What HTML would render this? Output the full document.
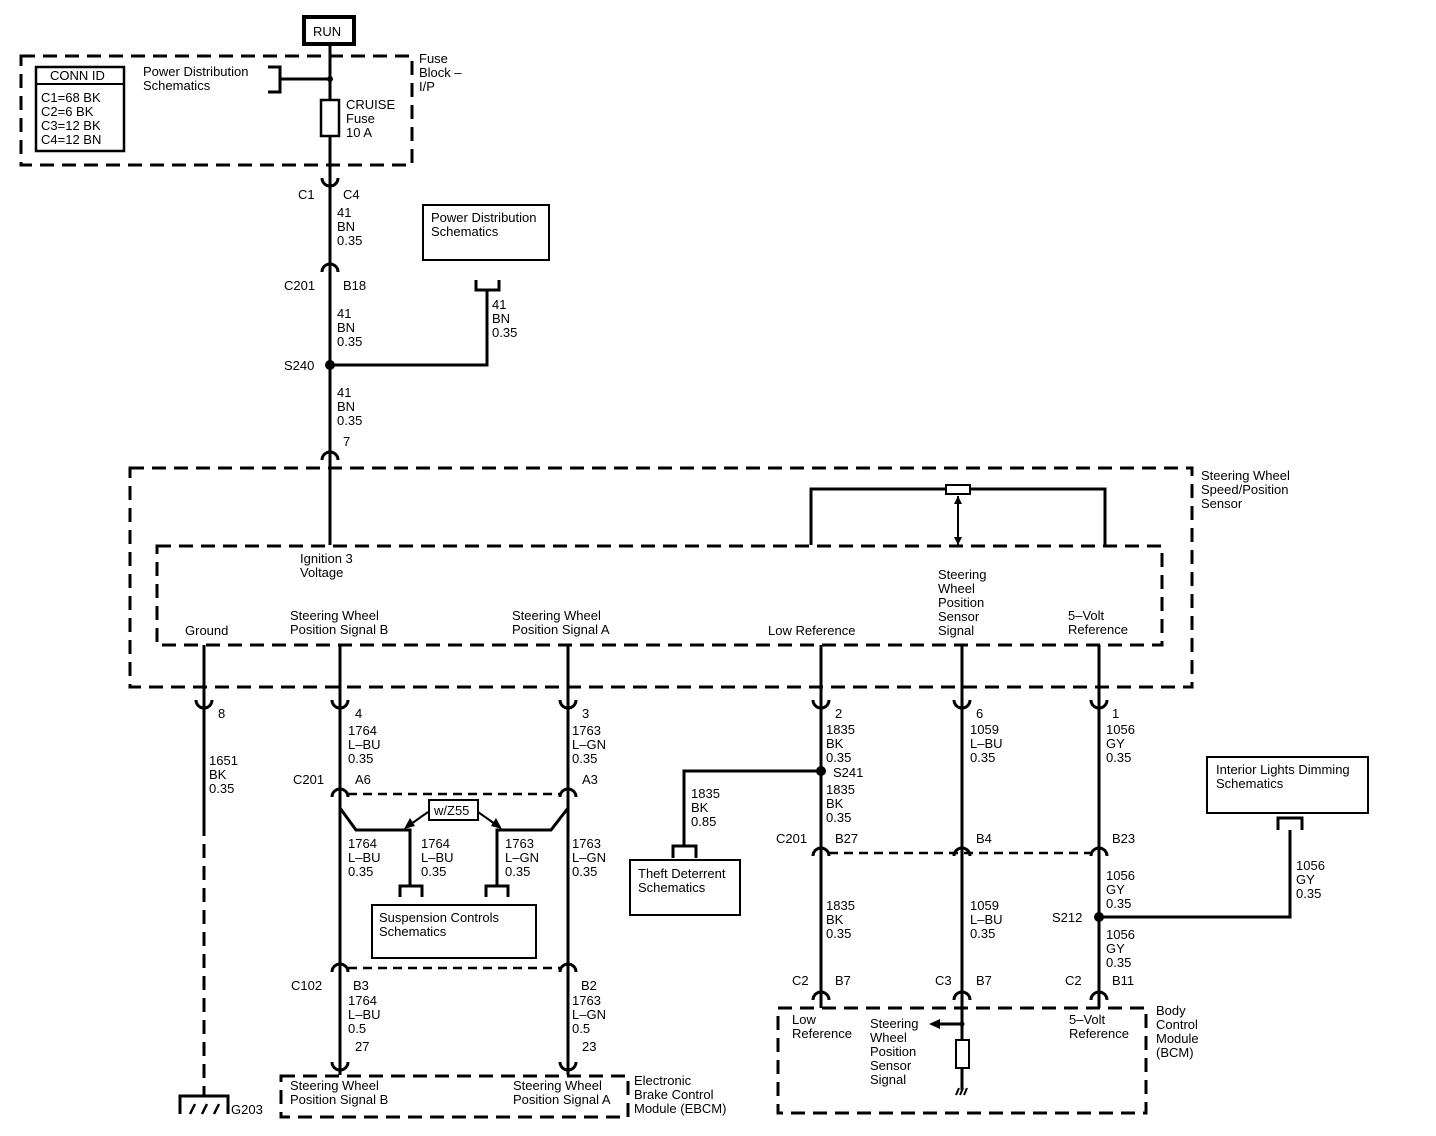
<!DOCTYPE html>
<html><head><meta charset="utf-8"><style>
html,body{margin:0;padding:0;background:#fff}
svg{display:block}
text{font-family:"Liberation Sans",Arial,sans-serif;font-size:13px;fill:#000}
.w{stroke:#000;stroke-width:3;fill:none}
.d{stroke:#000;stroke-width:3;fill:none;stroke-dasharray:14 8}
.dd{stroke:#000;stroke-width:2.5;fill:none;stroke-dasharray:9 6}
.b{stroke:#000;stroke-width:2;fill:#fff}
.c{stroke:#000;stroke-width:3;fill:none}
</style></head><body>
<svg width="1436" height="1136" viewBox="0 0 1436 1136" xmlns="http://www.w3.org/2000/svg">
<!-- RUN -->
<rect x="304" y="17" width="50" height="27" fill="#fff" stroke="#000" stroke-width="4"/>
<text x="313" y="36">RUN</text>
<!-- fuse block box -->
<rect x="21" y="56" width="391" height="109" class="d"/>
<text x="419" y="63">Fuse</text><text x="419" y="77">Block –</text><text x="419" y="91">I/P</text>
<rect x="36" y="67" width="88" height="84" fill="none" stroke="#000" stroke-width="2.5"/>
<line x1="36" y1="84" x2="124" y2="84" stroke="#000" stroke-width="2"/>
<text x="50" y="80">CONN ID</text>
<text x="41" y="102">C1=68 BK</text><text x="41" y="116">C2=6 BK</text><text x="41" y="130">C3=12 BK</text><text x="41" y="144">C4=12 BN</text>
<text x="143" y="76">Power Distribution</text><text x="143" y="90">Schematics</text>
<path d="M268 67 H280 V92 H268" class="w"/>
<line x1="280" y1="79" x2="330" y2="79" class="w"/>
<circle cx="330" cy="79" r="3"/>
<!-- main wire -->
<line x1="330" y1="44" x2="330" y2="545" class="w"/>
<rect x="321" y="100" width="18" height="36" fill="#fff" stroke="#000" stroke-width="2.5"/>
<text x="346" y="109">CRUISE</text><text x="346" y="123">Fuse</text><text x="346" y="137">10 A</text>
<path d="M322 178 A8 8 0 0 0 338 178" class="c"/>
<text x="298" y="199">C1</text><text x="343" y="199">C4</text>
<text x="337" y="217">41</text><text x="337" y="231">BN</text><text x="337" y="245">0.35</text>
<path d="M322 272 A8 8 0 0 1 338 272" class="c"/>
<text x="284" y="290">C201</text><text x="343" y="290">B18</text>
<text x="337" y="318">41</text><text x="337" y="332">BN</text><text x="337" y="346">0.35</text>
<circle cx="330" cy="365" r="5"/>
<text x="284" y="370">S240</text>
<path d="M330 365 H487 V290" class="w"/>
<path d="M476 280 V290 H499 V280" class="w"/>
<rect x="423" y="205" width="126" height="55" class="b" stroke-width="2.5"/>
<text x="431" y="222">Power Distribution</text><text x="431" y="236">Schematics</text>
<text x="492" y="309">41</text><text x="492" y="323">BN</text><text x="492" y="337">0.35</text>
<text x="337" y="397">41</text><text x="337" y="411">BN</text><text x="337" y="425">0.35</text>
<path d="M322 460 A8 8 0 0 1 338 460" class="c"/>
<text x="343" y="446">7</text>
<!-- sensor boxes -->
<rect x="130" y="468" width="1062" height="219" class="d"/>
<rect x="157" y="546" width="1005" height="99" class="d"/>
<text x="1201" y="480">Steering Wheel</text><text x="1201" y="494">Speed/Position</text><text x="1201" y="508">Sensor</text>
<path d="M811 545 V489 H1105 V545" class="w"/>
<rect x="946" y="485" width="24" height="9" class="b" stroke-width="2.5"/>
<line x1="958" y1="496" x2="958" y2="545" stroke="#000" stroke-width="2"/>
<path d="M954 504 L958 496 L962 504 Z M954 537 L958 545 L962 537 Z"/>
<text x="300" y="563">Ignition 3</text><text x="300" y="577">Voltage</text>
<text x="185" y="635">Ground</text>
<text x="290" y="620">Steering Wheel</text><text x="290" y="634">Position Signal B</text>
<text x="512" y="620">Steering Wheel</text><text x="512" y="634">Position Signal A</text>
<text x="768" y="635">Low Reference</text>
<text x="938" y="579">Steering</text><text x="938" y="593">Wheel</text><text x="938" y="607">Position</text><text x="938" y="621">Sensor</text><text x="938" y="635">Signal</text>
<text x="1068" y="620">5–Volt</text><text x="1068" y="634">Reference</text>
<!-- vertical wires -->
<line x1="204" y1="645" x2="204" y2="822" class="w"/>
<line x1="204" y1="822" x2="204" y2="1095" class="d"/>
<line x1="340" y1="645" x2="340" y2="1075" class="w"/>
<line x1="568" y1="645" x2="568" y2="1075" class="w"/>
<line x1="821" y1="645" x2="821" y2="1008" class="w"/>
<line x1="962" y1="645" x2="962" y2="1090" class="w"/>
<line x1="1099" y1="645" x2="1099" y2="1008" class="w"/>
<!-- connectors row 700 -->
<g class="c">
<path d="M196 700 A8 8 0 0 0 212 700"/><path d="M332 700 A8 8 0 0 0 348 700"/><path d="M560 700 A8 8 0 0 0 576 700"/>
<path d="M813 700 A8 8 0 0 0 829 700"/><path d="M954 700 A8 8 0 0 0 970 700"/><path d="M1091 700 A8 8 0 0 0 1107 700"/>
</g>
<text x="218" y="718">8</text><text x="209" y="765">1651</text><text x="209" y="779">BK</text><text x="209" y="793">0.35</text>
<text x="355" y="718">4</text><text x="348" y="735">1764</text><text x="348" y="749">L–BU</text><text x="348" y="763">0.35</text>
<text x="582" y="718">3</text><text x="572" y="735">1763</text><text x="572" y="749">L–GN</text><text x="572" y="763">0.35</text>
<text x="835" y="718">2</text><text x="826" y="734">1835</text><text x="826" y="748">BK</text><text x="826" y="762">0.35</text>
<text x="976" y="718">6</text><text x="970" y="734">1059</text><text x="970" y="748">L–BU</text><text x="970" y="762">0.35</text>
<text x="1112" y="718">1</text><text x="1106" y="734">1056</text><text x="1106" y="748">GY</text><text x="1106" y="762">0.35</text>
<!-- C201 A6/A3 -->
<path d="M332 797 A8 8 0 0 1 348 797" class="c"/><path d="M560 797 A8 8 0 0 1 576 797" class="c"/>
<line x1="348" y1="794" x2="560" y2="794" class="dd"/>
<text x="293" y="784">C201</text><text x="355" y="784">A6</text><text x="582" y="784">A3</text>
<path d="M340 808 L356 830 H410 V885" class="w"/>
<path d="M568 808 L551 830 H497 V885" class="w"/>
<path d="M400 897 V886 H422 V897" class="w"/><path d="M486 897 V886 H508 V897" class="w"/>
<rect x="429" y="800" width="49" height="20" class="b" stroke-width="2.5"/><text x="434" y="815">w/Z55</text>
<path d="M428 812 L411 824" stroke="#000" stroke-width="2"/><path d="M404 829 L410 818 L415 826 Z"/>
<path d="M478 812 L495 824" stroke="#000" stroke-width="2"/><path d="M502 829 L491 826 L496 818 Z"/>
<text x="348" y="848">1764</text><text x="348" y="862">L–BU</text><text x="348" y="876">0.35</text>
<text x="421" y="848">1764</text><text x="421" y="862">L–BU</text><text x="421" y="876">0.35</text>
<text x="505" y="848">1763</text><text x="505" y="862">L–GN</text><text x="505" y="876">0.35</text>
<text x="572" y="848">1763</text><text x="572" y="862">L–GN</text><text x="572" y="876">0.35</text>
<rect x="372" y="905" width="164" height="53" class="b" stroke-width="2.5"/>
<text x="379" y="922">Suspension Controls</text><text x="379" y="936">Schematics</text>
<!-- C102 -->
<path d="M332 972 A8 8 0 0 1 348 972" class="c"/><path d="M560 972 A8 8 0 0 1 576 972" class="c"/>
<line x1="348" y1="968" x2="560" y2="968" class="dd"/>
<text x="291" y="990">C102</text><text x="353" y="990">B3</text><text x="581" y="990">B2</text>
<text x="348" y="1005">1764</text><text x="348" y="1019">L–BU</text><text x="348" y="1033">0.5</text>
<text x="572" y="1005">1763</text><text x="572" y="1019">L–GN</text><text x="572" y="1033">0.5</text>
<path d="M332 1062 A8 8 0 0 0 348 1062" class="c"/><path d="M560 1062 A8 8 0 0 0 576 1062" class="c"/>
<text x="355" y="1051">27</text><text x="582" y="1051">23</text>
<rect x="281" y="1076" width="347" height="41" class="d"/>
<text x="290" y="1090">Steering Wheel</text><text x="290" y="1104">Position Signal B</text>
<text x="513" y="1090">Steering Wheel</text><text x="513" y="1104">Position Signal A</text>
<text x="634" y="1085">Electronic</text><text x="634" y="1099">Brake Control</text><text x="634" y="1113">Module (EBCM)</text>
<!-- ground -->
<path d="M180 1114 V1096 H228 V1114" class="w"/>
<path d="M190 1114 L195 1104 M202 1114 L207 1104 M214 1114 L219 1104" stroke="#000" stroke-width="2.5"/>
<text x="231" y="1114">G203</text>
<!-- S241 -->
<circle cx="821" cy="771" r="5"/><text x="833" y="777">S241</text>
<path d="M821 771 H684 V845" class="w"/><path d="M673 858 V846 H696 V858" class="w"/>
<text x="691" y="798">1835</text><text x="691" y="812">BK</text><text x="691" y="826">0.85</text>
<rect x="630" y="860" width="110" height="55" class="b" stroke-width="2.5"/>
<text x="638" y="878">Theft Deterrent</text><text x="638" y="892">Schematics</text>
<text x="826" y="794">1835</text><text x="826" y="808">BK</text><text x="826" y="822">0.35</text>
<!-- C201 row 852 -->
<path d="M813 856 A8 8 0 0 1 829 856" class="c"/><path d="M954 856 A8 8 0 0 1 970 856" class="c"/><path d="M1091 856 A8 8 0 0 1 1107 856" class="c"/>
<line x1="829" y1="853" x2="1091" y2="853" class="dd"/>
<text x="776" y="843">C201</text><text x="835" y="843">B27</text><text x="976" y="843">B4</text><text x="1112" y="843">B23</text>
<text x="826" y="910">1835</text><text x="826" y="924">BK</text><text x="826" y="938">0.35</text>
<text x="970" y="910">1059</text><text x="970" y="924">L–BU</text><text x="970" y="938">0.35</text>
<text x="1106" y="880">1056</text><text x="1106" y="894">GY</text><text x="1106" y="908">0.35</text>
<circle cx="1099" cy="917" r="5"/><text x="1052" y="922">S212</text>
<path d="M1099 917 H1290 V830" class="w"/><path d="M1278 830 V818 H1302 V830" class="w"/>
<rect x="1207" y="757" width="161" height="56" class="b" stroke-width="2.5"/>
<text x="1216" y="774">Interior Lights Dimming</text><text x="1216" y="788">Schematics</text>
<text x="1296" y="870">1056</text><text x="1296" y="884">GY</text><text x="1296" y="898">0.35</text>
<text x="1106" y="939">1056</text><text x="1106" y="953">GY</text><text x="1106" y="967">0.35</text>
<!-- C2/C3 -->
<path d="M813 1000 A8 8 0 0 1 829 1000" class="c"/><path d="M954 1000 A8 8 0 0 1 970 1000" class="c"/><path d="M1091 1000 A8 8 0 0 1 1107 1000" class="c"/>
<text x="792" y="985">C2</text><text x="835" y="985">B7</text>
<text x="935" y="985">C3</text><text x="976" y="985">B7</text>
<text x="1065" y="985">C2</text><text x="1112" y="985">B11</text>
<rect x="778" y="1008" width="368" height="105" class="d"/>
<text x="1156" y="1015">Body</text><text x="1156" y="1029">Control</text><text x="1156" y="1043">Module</text><text x="1156" y="1057">(BCM)</text>
<text x="792" y="1024">Low</text><text x="792" y="1038">Reference</text>
<text x="870" y="1028">Steering</text><text x="870" y="1042">Wheel</text><text x="870" y="1056">Position</text><text x="870" y="1070">Sensor</text><text x="870" y="1084">Signal</text>
<text x="1069" y="1024">5–Volt</text><text x="1069" y="1038">Reference</text>
<line x1="940" y1="1024" x2="962" y2="1024" class="w"/><path d="M929 1024 L940 1019 L940 1029 Z"/>
<circle cx="962" cy="1024" r="2.5"/>
<rect x="956" y="1040" width="13" height="28" class="b" stroke-width="2.5"/>
<path d="M956 1095 L959 1088 M960 1095 L963 1088 M964 1095 L967 1088" stroke="#000" stroke-width="2"/>
</svg>
</body></html>
